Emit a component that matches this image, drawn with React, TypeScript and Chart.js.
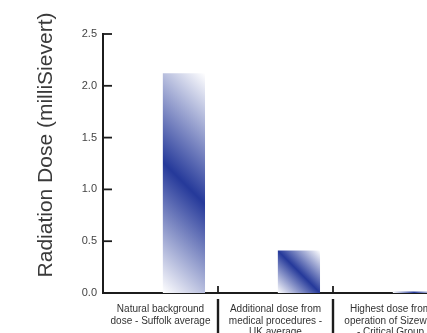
import React, { useEffect, useRef } from 'react';
import { Chart, registerables } from 'chart.js';

Chart.register(...registerables);

// ---- data ----
const categories: string[][] = [
  ['Natural background', 'dose - Suffolk average'],
  ['Additional dose from', 'medical procedures -', 'UK average'],
  ['Highest dose from', 'operation of Sizewell', '- Critical Group'],
];
const doseValues: number[] = [2.12, 0.41, 0.015];
const spacerValues: (number | null)[] = [null, null, null];
const yMin = 0;
const yMax = 2.5;
const yStep = 0.5;
const yTitle = 'Radiation Dose (milliSievert)';

const FONT = '"Liberation Sans", Arial, Helvetica, sans-serif';
const DARK_BLUE = '#25399a';
const AXIS = '#1c1c1c';

const barFill = (c: any) => {
  const el = c.element;
  const chart = c.chart;
  if (!el || !isFinite(el.x) || !isFinite(el.y) || !isFinite(el.base) || !isFinite(el.width)) {
    return DARK_BLUE;
  }
  const w = el.width;
  const top = Math.min(el.y, el.base);
  const h = Math.abs(el.base - el.y);
  const cx = el.x;
  const cy = top + h / 2;
  const k = (w + h) / 4;
  const g = chart.ctx.createLinearGradient(cx - k, cy + k, cx + k, cy - k);
  g.addColorStop(0, '#ffffff');
  g.addColorStop(0.5, DARK_BLUE);
  g.addColorStop(1, '#ffffff');
  return g;
};

const decor = {
  id: 'decor',
  afterDraw(chart: any) {
    const { ctx, chartArea } = chart;
    const x = chart.scales.x;
    const y = chart.scales.y;
    ctx.save();
    ctx.strokeStyle = AXIS;
    // inward y ticks
    ctx.lineWidth = 1.8;
    y.ticks.forEach((t: any) => {
      const py = y.getPixelForValue(t.value);
      ctx.beginPath();
      ctx.moveTo(chartArea.left - 1, py);
      ctx.lineTo(chartArea.left + 9, py);
      ctx.stroke();
    });
    // category separators
    for (let i = 0; i < x.ticks.length - 1; i++) {
      const px = (x.getPixelForValue(i) + x.getPixelForValue(i + 1)) / 2;
      ctx.lineWidth = 1.8;
      ctx.beginPath();
      ctx.moveTo(px, chartArea.bottom - 7);
      ctx.lineTo(px, chartArea.bottom);
      ctx.stroke();
      ctx.lineWidth = 2.4;
      ctx.beginPath();
      ctx.moveTo(px, chartArea.bottom + 6);
      ctx.lineTo(px, chart.height);
      ctx.stroke();
    }
    // y title
    ctx.translate(52, 145);
    ctx.rotate(-Math.PI / 2);
    ctx.font = `21px ${FONT}`;
    ctx.fillStyle = '#3a3a3a';
    ctx.textAlign = 'center';
    ctx.textBaseline = 'alphabetic';
    ctx.fillText(yTitle, 0, 0);
    ctx.restore();
  },
};

export default function App() {
  const ref = useRef<HTMLCanvasElement | null>(null);
  useEffect(() => {
    if (!ref.current) return;
    const chart = new Chart(ref.current, {
      type: 'bar',
      data: {
        labels: categories,
        datasets: [
          {
            data: spacerValues,
            backgroundColor: 'rgba(0,0,0,0)',
            categoryPercentage: 0.815,
            barPercentage: 0.9,
          },
          {
            data: doseValues,
            backgroundColor: barFill,
            borderWidth: 0,
            categoryPercentage: 0.815,
            barPercentage: 0.9,
          },
        ],
      },
      options: {
        responsive: false,
        animation: false,
        devicePixelRatio: 1,
        layout: { padding: { top: 34, right: 12, left: 0, bottom: 0 } },
        plugins: { legend: { display: false }, tooltip: { enabled: false } },
        scales: {
          x: {
            type: 'category',
            offset: true,
            grid: { display: false, drawTicks: false },
            border: { display: true, color: AXIS, width: 2 },
            ticks: {
              autoSkip: false,
              maxRotation: 0,
              minRotation: 0,
              padding: 11,
              color: '#333333',
              font: { family: FONT, size: 10, lineHeight: 1.13 },
            },
            afterFit: (s: any) => {
              s.height = 40;
            },
          },
          y: {
            min: yMin,
            max: yMax,
            grid: { display: false, drawTicks: false },
            border: { display: true, color: AXIS, width: 2 },
            ticks: {
              stepSize: yStep,
              padding: 6,
              color: '#444444',
              font: { family: FONT, size: 11 },
              callback: (v: any) => Number(v).toFixed(1),
            },
            afterFit: (s: any) => {
              s.width = 103;
            },
          },
        },
      },
      plugins: [decor],
    });
    chart.update();
    return () => chart.destroy();
  }, []);
  return (
    <div
      style={{
        position: 'absolute',
        left: 0,
        top: 0,
        width: 427,
        height: 333,
        overflow: 'hidden',
        background: '#ffffff',
      }}
    >
      <canvas ref={ref} width={460} height={333} style={{ display: 'block', width: 460, height: 333 }} />
    </div>
  );
}
